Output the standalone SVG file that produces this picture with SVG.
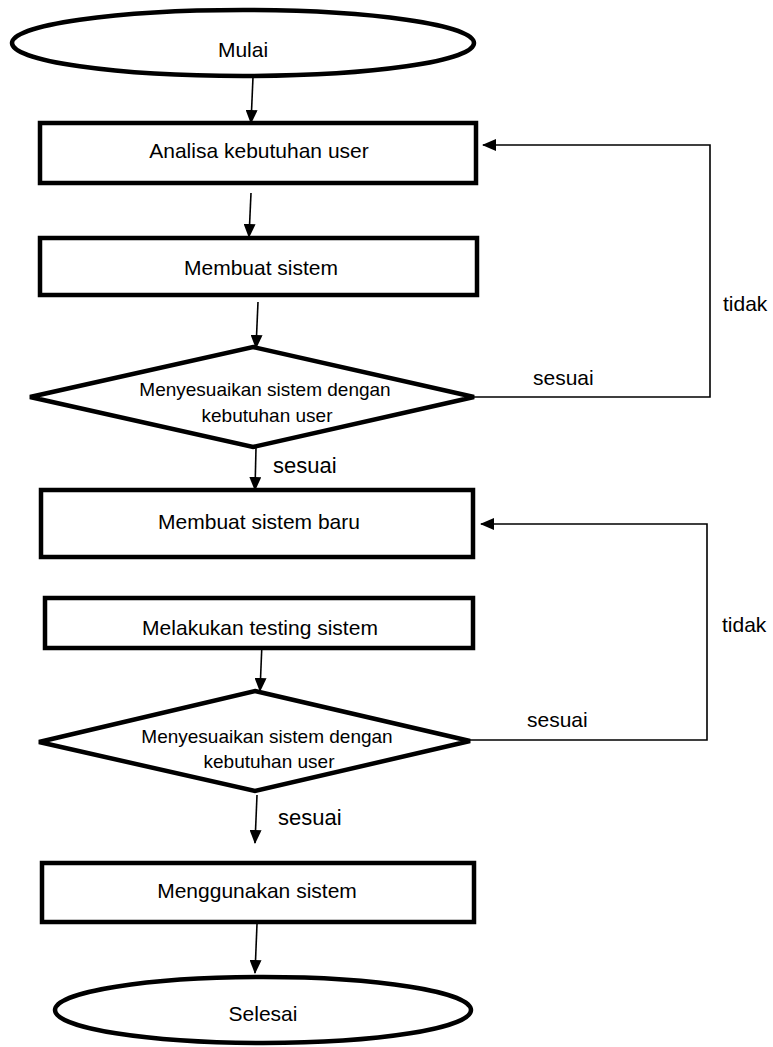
<svg xmlns="http://www.w3.org/2000/svg" width="773" height="1047" viewBox="0 0 773 1047">
<style>
.shape{fill:#fff;stroke:#000;stroke-width:4.5;stroke-linejoin:miter}
.t{font-family:"Liberation Sans",Arial,sans-serif;font-size:21px;fill:#000;text-anchor:middle}
.d{font-family:"Liberation Sans",Arial,sans-serif;font-size:19px;fill:#000;text-anchor:middle}
.lbl{font-family:"Liberation Sans",Arial,sans-serif;font-size:21px;fill:#000}
.c{fill:none;stroke:#000;stroke-width:1.6}
</style>
<defs>
<marker id="ah" markerUnits="userSpaceOnUse" markerWidth="14" markerHeight="12" refX="13" refY="6" orient="auto">
<path d="M0,0 L14,6 L0,12 Z" fill="#000"/>
</marker>
</defs>
<rect width="773" height="1047" fill="#fff"/>
<g id="connectors">
<line class="c" x1="253" y1="77" x2="251" y2="123" marker-end="url(#ah)"/>
<line class="c" x1="251" y1="193" x2="249" y2="237" marker-end="url(#ah)"/>
<line class="c" x1="258" y1="302" x2="256" y2="348" marker-end="url(#ah)"/>
<polyline class="c" points="474,397 710,397 710,145 483,145" marker-end="url(#ah)"/>
<line class="c" x1="256" y1="448" x2="255" y2="490" marker-end="url(#ah)"/>
<line class="c" x1="262" y1="643" x2="260" y2="691" marker-end="url(#ah)"/>
<polyline class="c" points="470,740 707,740 707,524 481,524" marker-end="url(#ah)"/>
<line class="c" x1="257" y1="795" x2="255" y2="843" marker-end="url(#ah)"/>
<line class="c" x1="257" y1="924" x2="255" y2="973" marker-end="url(#ah)"/>
<text class="lbl" x="533" y="385">sesuai</text>
<text class="lbl" x="723" y="311">tidak</text>
<text class="lbl" x="273" y="473" style="font-size:22px">sesuai</text>
<text class="lbl" x="527" y="727">sesuai</text>
<text class="lbl" x="722" y="632">tidak</text>
<text class="lbl" x="278" y="825" style="font-size:22px">sesuai</text>
</g>
<g id="mulai">
<ellipse class="shape" cx="243" cy="43" rx="231" ry="33"/>
<text class="t" x="243" y="57">Mulai</text>
</g>
<g id="analisa">
<rect class="shape" x="40" y="123" width="436" height="60"/>
<text class="t" x="259" y="158">Analisa kebutuhan user</text>
</g>
<g id="membuat">
<rect class="shape" x="40" y="238" width="437" height="57"/>
<text class="t" x="261" y="275">Membuat sistem</text>
</g>
<g id="cek1">
<polygon class="shape" points="253,347 474,397 253,447 30,397"/>
<text class="d" x="265" y="396">Menyesuaikan sistem dengan</text>
<text class="d" x="267" y="422">kebutuhan user</text>
</g>
<g id="baru">
<rect class="shape" x="41" y="490" width="432" height="67"/>
<text class="t" x="259" y="529">Membuat sistem baru</text>
</g>
<g id="testing">
<rect class="shape" x="45" y="598" width="428" height="50"/>
<text class="t" x="260" y="635">Melakukan testing sistem</text>
</g>
<g id="cek2">
<polygon class="shape" points="255,691 470,741 255,791 39,742"/>
<text class="d" x="267" y="743">Menyesuaikan sistem dengan</text>
<text class="d" x="269" y="768">kebutuhan user</text>
</g>
<g id="menggunakan">
<rect class="shape" x="42" y="863" width="432" height="59"/>
<text class="t" x="257" y="898">Menggunakan sistem</text>
</g>
<g id="selesai">
<ellipse class="shape" cx="263" cy="1010" rx="208" ry="33"/>
<text class="t" x="263" y="1021">Selesai</text>
</g>
</svg>
